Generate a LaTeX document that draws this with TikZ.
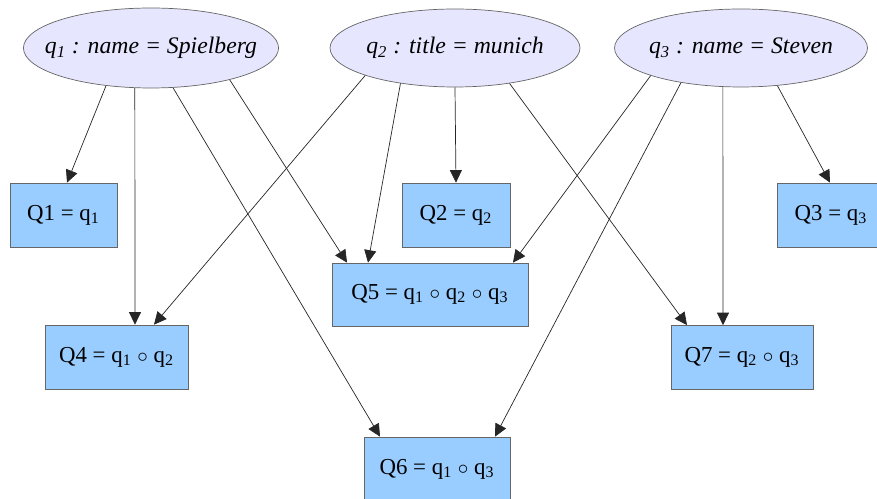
\documentclass[tikz,border=0pt]{standalone}
\usepackage{fontspec}
\setmainfont{Liberation Serif}
\usetikzlibrary{arrows.meta,shapes.geometric}
\definecolor{querycol}{RGB}{230,230,255}
\definecolor{resultcol}{RGB}{153,204,255}
\tikzset{
  query/.style={ellipse, draw=black!60, fill=querycol, inner xsep=-9pt, inner ysep=0pt, font=\fontsize{13.5}{15}\selectfont\itshape},
  result/.style={rectangle, draw=black!60, fill=resultcol, inner sep=0pt, minimum height=1.28cm, font=\fontsize{13}{15}\selectfont},
  link/.style={-{Triangle[length=2.5mm,width=2.4mm]}, line width=0.4pt, black!85}
}

\begin{document}
\begin{tikzpicture}[x=0.02cm,y=-0.02cm]
  \useasboundingbox (0,0) rectangle (877,499);
  % the three queries
  \node[query, minimum width=5.04cm, minimum height=1.6cm] (q1) at (151,48) {q\textsubscript{1} : name = Spielberg};
  \node[query, minimum width=5.0cm, minimum height=1.56cm] (q2) at (455,48) {q\textsubscript{2} : title = munich};
  \node[query, minimum width=5.06cm, minimum height=1.56cm] (q3) at (741,48) {q\textsubscript{3} : name = Steven};
  % the combined results
  \node[result, minimum width=2.14cm] (Q1) at (63.5,215) {Q1 = q\textsubscript{1}};
  \node[result, minimum width=2.16cm] (Q2) at (456,215) {Q2 = q\textsubscript{2}};
  \node[result, minimum width=2.16cm] (Q3) at (831,215) {Q3 = q\textsubscript{3}};
  \node[result, minimum width=3.92cm, minimum height=1.26cm] (Q5) at (430,294.5) {Q5 = q\textsubscript{1} $\circ$ q\textsubscript{2} $\circ$ q\textsubscript{3}};
  \node[result, minimum width=2.86cm] (Q4) at (116.5,357) {Q4 = q\textsubscript{1} $\circ$ q\textsubscript{2}};
  \node[result, minimum width=2.84cm] (Q7) at (742,357.5) {Q7 = q\textsubscript{2} $\circ$ q\textsubscript{3}};
  \node[result, minimum width=2.92cm] (Q6) at (437,469) {Q6 = q\textsubscript{1} $\circ$ q\textsubscript{3}};
  % q1
  \draw[link] (q1.220.8) -- ([xshift=0.07cm]Q1.north);
  \draw[link] (q1.248) -- ([xshift=0.37cm]Q4.north);
  \draw[link] (q1.299.2) -- ([xshift=-1.14cm]Q6.north);
  \draw[link] (q1.338) -- ([xshift=-1.66cm]Q5.north);
  % q2
  \draw[link] (q2.197.5) -- ([xshift=0.75cm]Q4.north);
  \draw[link] (q2.213) -- ([xshift=-1.24cm]Q5.north);
  \draw[link] (q2.270) -- (Q2.north);
  \draw[link] (q2.327.5) -- ([xshift=-1.1cm]Q7.north);
  % q3
  \draw[link] (q3.197) -- ([xshift=1.66cm]Q5.north);
  \draw[link] (q3.210.3) -- ([xshift=1.16cm]Q6.north);
  \draw[link] (q3.245) -- ([xshift=-0.38cm]Q7.north);
  \draw[link] (q3.314) -- ([xshift=-0.02cm]Q3.north);
\end{tikzpicture}
\end{document}
